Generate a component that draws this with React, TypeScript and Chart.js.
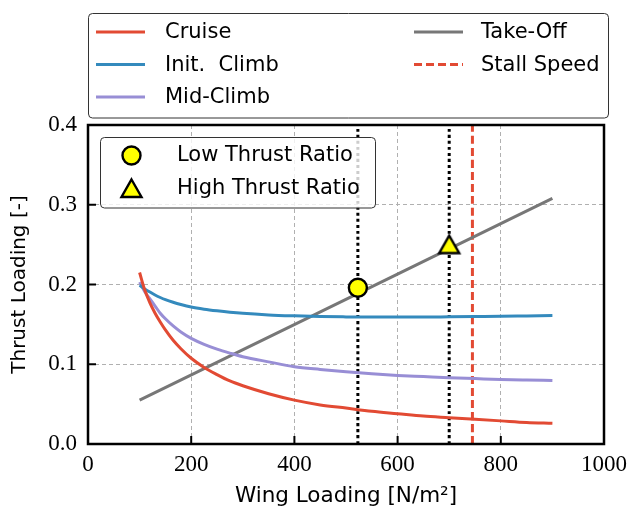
import React, { useEffect, useRef } from "react";
import { Chart, registerables } from "chart.js";

Chart.register(...registerables);

// ---- data ----
const wingLoading = [100, 110, 120, 130, 140, 150, 165, 180, 200, 225, 250, 275, 300, 350, 400, 450, 500, 550, 600, 650, 700, 750, 800, 850, 900];
const cruise = [0.215, 0.193, 0.177, 0.164, 0.153, 0.143, 0.130, 0.1195, 0.1075, 0.096, 0.087, 0.079, 0.073, 0.063, 0.055, 0.049, 0.045, 0.041, 0.038, 0.035, 0.033, 0.031, 0.029, 0.027, 0.026];
const initClimb = [0.199, 0.1945, 0.1905, 0.1868, 0.1837, 0.181, 0.1777, 0.1749, 0.1718, 0.1691, 0.167, 0.1652, 0.1638, 0.1619, 0.1607, 0.1598, 0.1594, 0.1592, 0.1591, 0.1592, 0.1595, 0.1598, 0.1601, 0.1606, 0.1611];
const midClimb = [0.203, 0.191, 0.182, 0.173, 0.164, 0.157, 0.148, 0.1405, 0.1325, 0.125, 0.119, 0.114, 0.1095, 0.103, 0.097, 0.0935, 0.0905, 0.088, 0.086, 0.0845, 0.083, 0.082, 0.081, 0.0803, 0.0797];
const takeOffX = [100, 900];
const takeOff = [0.055, 0.308];
const stallSpeed = 745;
const lowThrust = { x: 523, y: 0.196 };
const highThrust = { x: 700, y: 0.25 };
const xTicks = [0, 200, 400, 600, 800, 1000];
const yTicks = [0.0, 0.1, 0.2, 0.3, 0.4];

const C_RED = "#E24A33";
const C_BLUE = "#348ABD";
const C_PURPLE = "#988ED5";
const C_GRAY = "#777777";
const SANS = "'DejaVu Sans', sans-serif";
const SERIF = "'Liberation Serif', serif";
const LW = 3;

function drawTriangle(ctx: CanvasRenderingContext2D, cx: number, cy: number) {
  ctx.save();
  ctx.beginPath();
  ctx.moveTo(cx, cy - 9);
  ctx.lineTo(cx + 10, cy + 8.5);
  ctx.lineTo(cx - 10, cy + 8.5);
  ctx.closePath();
  ctx.fillStyle = "#ffff00";
  ctx.fill();
  ctx.lineWidth = 2.4;
  ctx.lineJoin = "miter";
  ctx.strokeStyle = "#000";
  ctx.stroke();
  ctx.restore();
}
function drawCircle(ctx: CanvasRenderingContext2D, cx: number, cy: number) {
  ctx.save();
  ctx.beginPath();
  ctx.arc(cx, cy, 9, 0, Math.PI * 2);
  ctx.fillStyle = "#ffff00";
  ctx.fill();
  ctx.lineWidth = 2.4;
  ctx.strokeStyle = "#000";
  ctx.stroke();
  ctx.restore();
}
function makeTriangleImage() {
  const c = document.createElement("canvas");
  c.width = 30;
  c.height = 30;
  const ctx = c.getContext("2d")!;
  drawTriangle(ctx, 15, 15);
  return c;
}

function roundRect(ctx: CanvasRenderingContext2D, x: number, y: number, w: number, h: number, r: number) {
  ctx.beginPath();
  ctx.moveTo(x + r, y);
  ctx.lineTo(x + w - r, y);
  ctx.arcTo(x + w, y, x + w, y + r, r);
  ctx.lineTo(x + w, y + h - r);
  ctx.arcTo(x + w, y + h, x + w - r, y + h, r);
  ctx.lineTo(x + r, y + h);
  ctx.arcTo(x, y + h, x, y + h - r, r);
  ctx.lineTo(x, y + r);
  ctx.arcTo(x, y, x + r, y, r);
  ctx.closePath();
}

const framePlugin = {
  id: "frame",
  afterDatasetsDraw(chart: any) {
    const { ctx, chartArea: a, scales } = chart;
    ctx.save();
    ctx.strokeStyle = "#000";
    ctx.lineWidth = 2;
    xTicks.forEach((v) => {
      const x = scales.x.getPixelForValue(v);
      ctx.beginPath();
      ctx.moveTo(x, a.bottom);
      ctx.lineTo(x, a.bottom - 8);
      ctx.stroke();
    });
    yTicks.forEach((v) => {
      const y = scales.y.getPixelForValue(v);
      ctx.beginPath();
      ctx.moveTo(a.left, y);
      ctx.lineTo(a.left + 8, y);
      ctx.stroke();
    });
    ctx.lineWidth = 2.5;
    ctx.strokeRect(a.left, a.top, a.right - a.left, a.bottom - a.top);
    ctx.restore();
  },
  afterDraw(chart: any) {
    const { ctx } = chart;
    ctx.save();
    // top legend
    roundRect(ctx, 88.5, 13.5, 520, 104.5, 4);
    ctx.fillStyle = "#fff";
    ctx.fill();
    ctx.strokeStyle = "#333";
    ctx.lineWidth = 1;
    ctx.stroke();
    const items = [
      { label: "Cruise", color: C_RED, dash: [] as number[], col: 0, row: 0 },
      { label: "Init.  Climb", color: C_BLUE, dash: [], col: 0, row: 1 },
      { label: "Mid-Climb", color: C_PURPLE, dash: [], col: 0, row: 2 },
      { label: "Take-Off", color: C_GRAY, dash: [], col: 1, row: 0 },
      { label: "Stall Speed", color: C_RED, dash: [8, 4], col: 1, row: 1 },
    ];
    const colLine = [96, 414];
    const colText = [165, 481];
    const rowY = [32, 64.5, 97];
    ctx.font = `21px ${SANS}`;
    ctx.textBaseline = "middle";
    ctx.textAlign = "left";
    items.forEach((it) => {
      const y = rowY[it.row];
      ctx.beginPath();
      ctx.setLineDash(it.dash);
      ctx.strokeStyle = it.color;
      ctx.lineWidth = LW;
      ctx.moveTo(colLine[it.col], y);
      ctx.lineTo(colLine[it.col] + 49, y);
      ctx.stroke();
      ctx.setLineDash([]);
      ctx.fillStyle = "#000";
      ctx.fillText(it.label, colText[it.col], y + 1);
    });
    // inner legend
    roundRect(ctx, 100.5, 137.5, 275, 70.5, 4);
    ctx.fillStyle = "rgba(255,255,255,0.8)";
    ctx.fill();
    ctx.strokeStyle = "#333";
    ctx.lineWidth = 1;
    ctx.stroke();
    drawCircle(ctx, 131.5, 155.5);
    drawTriangle(ctx, 131.5, 188.5);
    ctx.fillStyle = "#000";
    ctx.fillText("Low Thrust Ratio", 177, 156);
    ctx.fillText("High Thrust Ratio", 177, 189);
    ctx.restore();
  },
};

export default function App() {
  const ref = useRef<HTMLCanvasElement>(null);
  useEffect(() => {
    document.body.style.margin = "0";
    const pts = (xs: number[], ys: number[]) => xs.map((x, i) => ({ x, y: ys[i] }));
    const line = (label: string, data: any[], color: string, extra: any = {}) => ({
      label,
      data,
      borderColor: color,
      backgroundColor: color,
      borderWidth: LW,
      pointRadius: 0,
      showLine: true,
      fill: false,
      cubicInterpolationMode: "monotone",
      ...extra,
    });
    const chart = new Chart(ref.current!, {
      type: "scatter",
      data: {
        datasets: [
          {
            label: "Low Thrust Ratio",
            data: [lowThrust],
            pointStyle: "circle",
            pointRadius: 9,
            pointBorderWidth: 2.4,
            pointBackgroundColor: "#ffff00",
            pointBorderColor: "#000",
            showLine: false,
          },
          {
            label: "High Thrust Ratio",
            data: [highThrust],
            pointStyle: makeTriangleImage(),
            pointRadius: 12,
            showLine: false,
          },
          line("Cruise", pts(wingLoading, cruise), C_RED),
          line("Init. Climb", pts(wingLoading, initClimb), C_BLUE),
          line("Mid-Climb", pts(wingLoading, midClimb), C_PURPLE),
          line("Take-Off", pts(takeOffX, takeOff), C_GRAY),
          line("Stall Speed", [{ x: stallSpeed, y: 0 }, { x: stallSpeed, y: 0.4 }], C_RED, { borderDash: [8, 4] }),
          line("low-guide", [{ x: lowThrust.x, y: 0 }, { x: lowThrust.x, y: 0.4 }], "#000", { borderDash: [3, 3] }),
          line("high-guide", [{ x: highThrust.x, y: 0 }, { x: highThrust.x, y: 0.4 }], "#000", { borderDash: [3, 3] }),
        ] as any,
      },
      options: {
        animation: false,
        responsive: false,
        devicePixelRatio: 1,
        layout: { padding: { top: 125, right: 26, left: 0, bottom: 0 } },
        plugins: { legend: { display: false }, tooltip: { enabled: false } },
        events: [],
        scales: {
          x: {
            type: "linear",
            min: 0,
            max: 1000,
            afterFit: (s: any) => { s.height = 65; },
            afterBuildTicks: (s: any) => { s.ticks = xTicks.map((v) => ({ value: v })); },
            ticks: {
              font: { family: SERIF, size: 23 },
              color: "#000",
              padding: 7,
              maxRotation: 0,
              callback: (v: any) => String(v),
            },
            grid: { color: "#b0b0b0", lineWidth: 1, drawTicks: false },
            border: { display: false, dash: [4, 3] },
            title: {
              display: true,
              text: "Wing Loading [N/m²]",
              font: { family: SANS, size: 21.5, lineHeight: 1 },
              color: "#000",
              padding: { top: 0, bottom: 1.5 },
            },
          },
          y: {
            min: 0,
            max: 0.4,
            afterFit: (s: any) => { s.width = 88; },
            afterBuildTicks: (s: any) => { s.ticks = yTicks.map((v) => ({ value: v })); },
            ticks: {
              font: { family: SERIF, size: 23 },
              color: "#000",
              padding: 11,
              callback: (v: any) => Number(v).toFixed(1),
            },
            grid: { color: "#b0b0b0", lineWidth: 1, drawTicks: false },
            border: { display: false, dash: [4, 3] },
            title: {
              display: true,
              text: "Thrust Loading [-]",
              font: { family: SANS, size: 20 },
              color: "#000",
              padding: { top: 8, bottom: 0 },
            },
          },
        },
      },
      plugins: [framePlugin],
    } as any);
    return () => chart.destroy();
  }, []);
  return (
    <div style={{ width: 634, height: 509, background: "#fff" }}>
      <canvas ref={ref} width={634} height={509} />
    </div>
  );
}
